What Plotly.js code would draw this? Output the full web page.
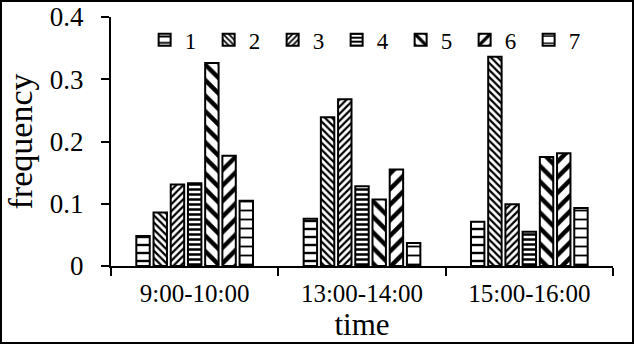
<!DOCTYPE html>
<html>
<head>
<meta charset="utf-8">
<script src="https://cdn.plot.ly/plotly-3.0.1.min.js"></script>
<style>
  body { margin: 0; background: #fff; }
  #chart { width: 630px; height: 340px; border: 2px solid #000; }
</style>
</head>
<body>
<div id="chart"></div>
<script>
// categorias e valores
const periods = ['9:00-10:00', '13:00-14:00', '15:00-16:00'];
const seriesNames = ['1', '2', '3', '4', '5', '6', '7'];
const s1 = [0.048, 0.076, 0.071];
const s2 = [0.086, 0.239, 0.336];
const s3 = [0.131, 0.268, 0.099];
const s4 = [0.133, 0.128, 0.055];
const s5 = [0.326, 0.107, 0.175];
const s6 = [0.177, 0.155, 0.181];
const s7 = [0.105, 0.037, 0.093];
const allSeries = [s1, s2, s3, s4, s5, s6, s7];

// padrões de preenchimento (preto e branco)
const patterns = [
    { shape: '-', size: 8, solidity: 0.3 },
    { shape: '\\', size: 5, solidity: 0.45 },
    { shape: '/', size: 5, solidity: 0.45 },
    { shape: '-', size: 5, solidity: 0.5 },
    { shape: '\\', size: 11, solidity: 0.4 },
    { shape: '/', size: 11, solidity: 0.4 },
    { shape: '-', size: 9, solidity: 0.2 }
];

const serif = '"Liberation Serif"';

const data = allSeries.map((vals, i) => ({
    x: periods,
    y: vals,
    name: seriesNames[i],
    type: 'bar',
    marker: {
        color: '#fff',
        line: { color: '#000', width: 2 },
        pattern: {
            shape: patterns[i].shape,
            size: patterns[i].size,
            solidity: patterns[i].solidity,
            fgcolor: '#000',
            bgcolor: '#fff',
            fillmode: 'replace'
        }
    }
}));

const layout = {
    width: 630,
    height: 340,
    margin: { l: 109, r: 19, t: 15, b: 76 },
    barmode: 'group',
    bargap: 0.28,
    bargroupgap: 0.22,
    showlegend: true,
    legend: {
        orientation: 'h',
        x: 0.067,
        y: 0.995,
        xanchor: 'left',
        yanchor: 'top',
        font: { family: serif, size: 23, color: '#000' },
        bgcolor: 'rgba(0,0,0,0)',
        entrywidth: 19,
        itemwidth: 30
    },
    xaxis: {
        title: { text: 'time', font: { family: serif, size: 31, color: '#000' }, standoff: 0 },
        tickfont: { family: serif, size: 25, color: '#000' },
        ticklabelstandoff: 4,
        showline: true,
        linecolor: '#000',
        linewidth: 2,
        ticks: 'outside',
        tickson: 'boundaries',
        ticklen: 8,
        tickwidth: 2,
        tickcolor: '#000',
        showgrid: false
    },
    yaxis: {
        title: { text: 'frequency', font: { family: serif, size: 34, color: '#000' }, standoff: 14 },
        tickfont: { family: serif, size: 27, color: '#000' },
        ticklabelstandoff: 12,
        ticklabeloverflow: 'allow',
        range: [0, 0.4],
        dtick: 0.1,
        showline: true,
        linecolor: '#000',
        linewidth: 2,
        ticks: 'outside',
        ticklen: 8,
        tickwidth: 2,
        tickcolor: '#000',
        showgrid: false,
        zeroline: false
    },
    plot_bgcolor: '#fff',
    paper_bgcolor: '#fff'
};

Plotly.newPlot('chart', data, layout, { displayModeBar: false });
</script>
</body>
</html>
